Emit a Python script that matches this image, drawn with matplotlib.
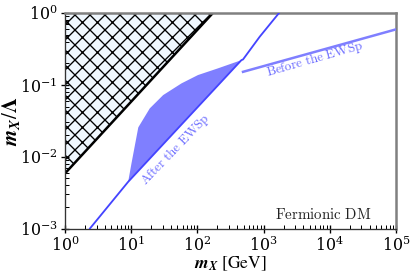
import matplotlib
matplotlib.use("Agg")
import matplotlib.pyplot as plt
import numpy as np

plt.rcParams['mathtext.fontset'] = 'cm'
plt.rcParams['font.family'] = ['DejaVu Serif']

# Excluded region (m_X / Lambda above the line)
excl_x = [1.0, 1.0, 171.0]
excl_y = [1.0, 1.0 / 171.0, 1.0]

# "After the EWSp" boundary line
after_line_x = [2.38, 9.0, 462.0, 489.0, 873.0, 1708.0]
after_line_y = [1e-3, 0.00447, 0.221, 0.226, 0.468, 1.0]

# "After the EWSp" allowed band (upper edge)
band_up_x = [9.0, 10.1, 12.8, 19.1, 30.4, 57.6, 102.0, 205.0, 462.0]
band_up_y = [0.00447, 0.00807, 0.0256, 0.0471, 0.0721, 0.105, 0.137, 0.170, 0.221]
# band lower edge
band_lo_x = [9.0, 462.0]
band_lo_y = [0.00447, 0.221]

# "Before the EWSp" line
before_x = [489.0, 1e5]
before_y = [0.152, 0.593]

dpi = 90
k = 120.0 / dpi
plt.rcParams['hatch.linewidth'] = 0.8 * k
fig = plt.figure(figsize=(414 / dpi, 278 / dpi), dpi=dpi)
ax = fig.add_axes([0.157, 0.178, 0.7995, 0.775])
ax.set_xscale('log')
ax.set_yscale('log')
ax.set_xlim(1, 1e5)
ax.set_ylim(1e-3, 1)

ax.fill(excl_x, excl_y, facecolor='aliceblue', edgecolor='black', hatch='xx', lw=0, zorder=1)
ax.plot([excl_x[1], excl_x[2]], [excl_y[1], excl_y[2]], color='black', lw=1.5 * k, zorder=2)

poly_x = band_up_x + band_lo_x[::-1]
poly_y = band_up_y + band_lo_y[::-1]
ax.fill(poly_x, poly_y, facecolor='#7f7fff', edgecolor='none', zorder=2)
ax.plot(after_line_x, after_line_y, color='#4444ff', lw=1.1 * k, zorder=3)
ax.plot(before_x, before_y, color='#7f7fff', lw=1.5 * k, zorder=3)

ax.text(47.0, 0.0125, r'$\mathrm{After\ the\ EWSp}$', color='#6a6aff', fontsize=7.8 * k,
        rotation=46, ha='center', va='center', rotation_mode='anchor')
ax.text(5900, 0.226, r'$\mathrm{Before\ the\ EWSp}$', color='#6a6aff', fontsize=7.8 * k,
        rotation=16, ha='center', va='center', rotation_mode='anchor')
ax.text(0.927, 0.03, r'$\mathrm{Fermionic\ DM}$', transform=ax.transAxes, fontsize=9.0 * k,
        ha='right', va='bottom', color='#222222')

ax.set_xlabel(r'$\mathbfit{m_X}\ \mathrm{[GeV]}$', fontsize=10.5 * k, math_fontfamily='stix')
ax.set_ylabel(r'$\mathbfit{m_X}/\mathbf{\Lambda}$', fontsize=12.5 * k, math_fontfamily='stix')
ax.xaxis.set_label_coords(0.5, -0.12)
ax.yaxis.set_label_coords(-0.13, 0.5)

for s in ['top', 'right']:
    ax.spines[s].set_color('#808080')
    ax.spines[s].set_linewidth(1.5 * k)
for s in ['left', 'bottom']:
    ax.spines[s].set_color('#333333')
    ax.spines[s].set_linewidth(0.8 * k)

ax.tick_params(which='major', direction='inout', length=5 * k, width=0.8 * k, labelsize=9.5 * k,
               top=False, right=False, pad=2 * k)
ax.tick_params(which='minor', direction='in', length=2.5 * k, width=0.6 * k, top=False, right=False)

fig.savefig('out.png', dpi=dpi)
